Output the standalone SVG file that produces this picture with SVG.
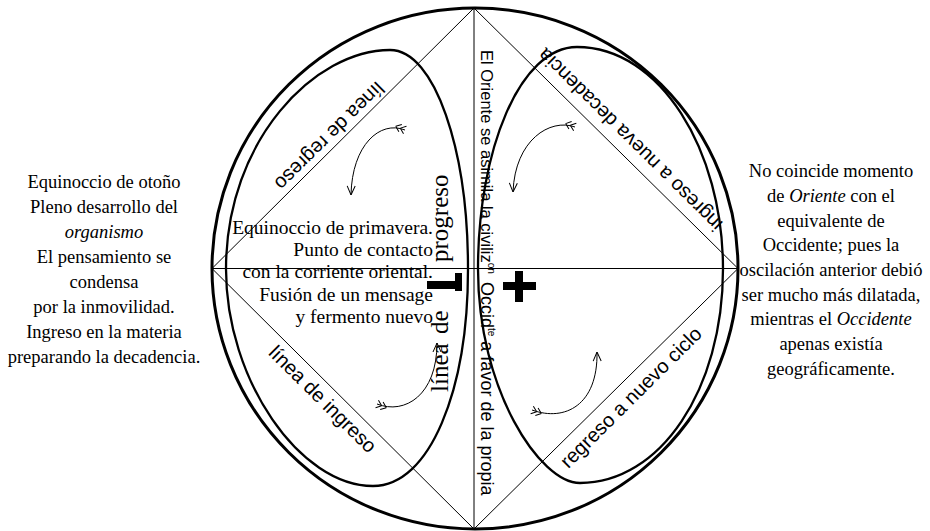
<svg xmlns="http://www.w3.org/2000/svg" width="930" height="531" viewBox="0 0 930 531">
<defs>
<style>
.serif{font-family:"Liberation Serif","DejaVu Serif",serif;fill:#000}
.sans{font-family:"Liberation Sans","DejaVu Sans",sans-serif;fill:#000}
.side{font-size:18.5px;text-anchor:middle}
.mid{font-size:19.5px;text-anchor:end}
.diag{font-size:20px;text-anchor:middle}
.thin{fill:none;stroke:#000;stroke-width:1}
.loop{fill:none;stroke:#000;stroke-width:2.3}
.arc{fill:none;stroke:#000;stroke-width:1;marker-end:url(#ah);marker-start:url(#fl)}
</style>
<marker id="ah" viewBox="0 0 10 10" refX="10" refY="5" markerWidth="10" markerHeight="10" markerUnits="userSpaceOnUse" orient="auto">
<path d="M1,1 L10,5 L1,9" fill="none" stroke="#000" stroke-width="1"/>
</marker>
<marker id="fl" viewBox="0 0 14 10" refX="1" refY="5" markerWidth="14" markerHeight="10" markerUnits="userSpaceOnUse" orient="auto">
<path d="M6,5 L1,1 M6,5 L1,9 M11,5 L6,1 M11,5 L6,9" fill="none" stroke="#000" stroke-width="1"/>
</marker>
</defs>
<rect width="930" height="531" fill="#fff"/>

<g id="frame">
<ellipse cx="475" cy="268.5" rx="263" ry="260.5" fill="none" stroke="#000" stroke-width="3"/>
<polygon class="thin" points="474,8 738,268.5 474,529 212,268.5"/>
<line class="thin" x1="212" y1="268.5" x2="738" y2="268.5"/>
<line class="thin" x1="474" y1="8" x2="474" y2="529"/>
</g>

<g id="loop-left">
<path class="loop" d="M390,50 C435,50 468,150 468,269 C468,390 430,486 373,486 C300,486 226,380 226,269 C226,140 315,50 390,50 Z"/>
</g>
<g id="loop-right">
<path class="loop" d="M577,47 C660,47 723,150 723,269 C723,390 660,483 580,483 C540,483 478,390 478,269 C478,150 520,47 577,47 Z"/>
</g>

<g id="connectors">
<path class="arc" d="M405,130 C380,120 352,145 351,195"/>
<path class="arc" d="M575,127 C550,118 515,140 513,192"/>
<path class="arc" d="M377,404 C405,415 437,395 437,343"/>
<path class="arc" d="M532,410 C565,422 598,405 597,352"/>
</g>

<g id="signs">
<rect x="427" y="281" width="35" height="8" fill="#000"/>
<rect x="455" y="273" width="7" height="18" fill="#000"/>
<rect x="503" y="282" width="33" height="8" fill="#000"/>
<rect x="515" y="271" width="8" height="31" fill="#000"/>
</g>

<g id="label-left" class="serif side">
<text x="104" y="188">Equinoccio de otoño</text>
<text x="104" y="213">Pleno desarrollo del</text>
<text x="104" y="238" font-style="italic">organismo</text>
<text x="104" y="263">El pensamiento se</text>
<text x="104" y="288">condensa</text>
<text x="104" y="313">por la inmovilidad.</text>
<text x="104" y="338">Ingreso en la materia</text>
<text x="104" y="363">preparando la decadencia.</text>
</g>

<g id="label-right" class="serif side">
<text x="831" y="177">No coincide momento</text>
<text x="831" y="202">de <tspan font-style="italic">Oriente</tspan> con el</text>
<text x="831" y="227">equivalente de</text>
<text x="831" y="251">Occidente; pues la</text>
<text x="831" y="276">oscilación anterior debió</text>
<text x="831" y="301">ser mucho más dilatada,</text>
<text x="831" y="325">mientras el <tspan font-style="italic">Occidente</tspan></text>
<text x="831" y="350">apenas existía</text>
<text x="831" y="375">geográficamente.</text>
</g>

<g id="label-center" class="serif mid">
<text x="433" y="234">Equinoccio de primavera.</text>
<text x="433" y="256">Punto de contacto</text>
<text x="433" y="278">con la corriente oriental.</text>
<text x="433" y="301">Fusión de un mensage</text>
<text x="433" y="323">y fermento nuevo</text>
</g>

<g id="label-progreso" class="serif" font-size="25">
<text transform="translate(448,392) rotate(-90)">línea</text>
<text transform="translate(448,334) rotate(-90)">de</text>
<text transform="translate(448,262) rotate(-90)">progreso</text>
</g>

<g id="label-axis" class="sans">
<text transform="translate(481,50) rotate(90)" font-size="16.5">El Oriente se asimila la civiliz<tspan font-size="10" dy="-7">on</tspan></text>
<text transform="translate(481,282) rotate(90)" font-size="18">Occid<tspan font-size="10" dy="-7">te</tspan><tspan dy="7"> a favor de la propia</tspan></text>
</g>

<g id="label-diagonals" class="sans diag">
<text transform="translate(324.8,131.3) rotate(135.3)">línea de regreso</text>
<text transform="translate(634.8,135) rotate(224.7)">ingreso a nueva decadencia</text>
<text transform="translate(317.9,404) rotate(44.8)">línea de ingreso</text>
<text transform="translate(635.6,402.2) rotate(-44.8)">regreso a nuevo ciclo</text>
</g>
</svg>
